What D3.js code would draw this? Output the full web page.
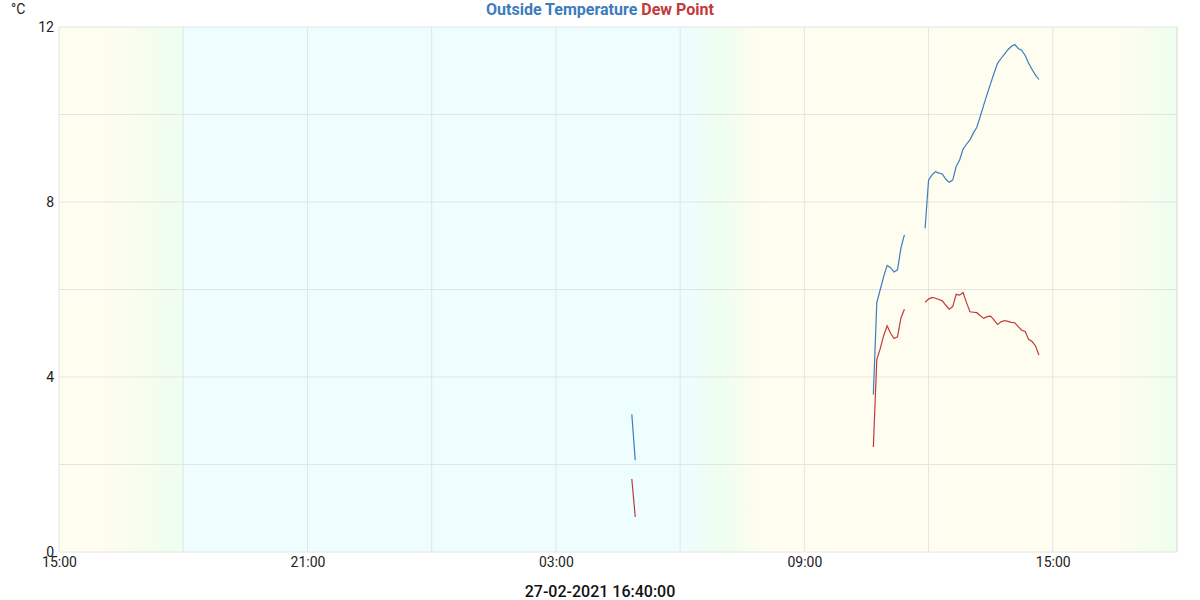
<!DOCTYPE html>
<html>
<head>
<meta charset="utf-8">
<script src="https://cdn.jsdelivr.net/npm/d3@7"></script>
<style>
body { margin: 0; background: #fff; }
svg { font-family: Roboto, "Noto Sans", sans-serif; }
</style>
</head>
<body>
<svg id="chart" width="1200" height="600"></svg>
<script>
// ---- data ----
// 5-minute readings, null = no reading (gap in the line)
var times = [
  "2021-02-27 04:50", "2021-02-27 04:55", "2021-02-27 05:00",
  "2021-02-27 10:40", "2021-02-27 10:45", "2021-02-27 10:50", "2021-02-27 10:55", "2021-02-27 11:00",
  "2021-02-27 11:05", "2021-02-27 11:10", "2021-02-27 11:15", "2021-02-27 11:20", "2021-02-27 11:25",
  "2021-02-27 11:30",
  "2021-02-27 11:55", "2021-02-27 12:00", "2021-02-27 12:05", "2021-02-27 12:10", "2021-02-27 12:15",
  "2021-02-27 12:20", "2021-02-27 12:25", "2021-02-27 12:30", "2021-02-27 12:35", "2021-02-27 12:40",
  "2021-02-27 12:45", "2021-02-27 12:50", "2021-02-27 12:55", "2021-02-27 13:00", "2021-02-27 13:05",
  "2021-02-27 13:10", "2021-02-27 13:15", "2021-02-27 13:20", "2021-02-27 13:25", "2021-02-27 13:30",
  "2021-02-27 13:35", "2021-02-27 13:40", "2021-02-27 13:45", "2021-02-27 13:50", "2021-02-27 13:55",
  "2021-02-27 14:00", "2021-02-27 14:05", "2021-02-27 14:10", "2021-02-27 14:15", "2021-02-27 14:20",
  "2021-02-27 14:25", "2021-02-27 14:30", "2021-02-27 14:35", "2021-02-27 14:40"
];
var outsideTemp = [
  3.15, 2.1, null,
  3.6, 5.7, 6.0, 6.3, 6.55, 6.5, 6.4, 6.45, 6.95, 7.25,
  null,
  7.4, 8.5, 8.62, 8.69, 8.66, 8.64, 8.52, 8.45, 8.5, 8.81,
  8.96, 9.21, 9.32, 9.42, 9.58, 9.71, 9.96, 10.22, 10.47, 10.71,
  10.95, 11.17, 11.28, 11.38, 11.48, 11.56, 11.6, 11.51, 11.47, 11.35,
  11.17, 11.03, 10.9, 10.8
];
var dewPoint = [
  1.67, 0.8, null,
  2.4, 4.4, 4.65, 4.95, 5.17, 5.0, 4.88, 4.92, 5.35, 5.55,
  null,
  5.71, 5.78, 5.82, 5.8, 5.77, 5.74, 5.64, 5.55, 5.61, 5.89,
  5.87, 5.93, 5.7, 5.49, 5.48, 5.47, 5.4, 5.34, 5.38, 5.39,
  5.3, 5.2, 5.26, 5.29, 5.27, 5.25, 5.24, 5.15, 5.07, 5.04,
  4.86, 4.81, 4.71, 4.5
];
var seriesNames = ["Outside Temperature", "Dew Point"];
var yTicks = [0, 4, 8, 12];
var xTicks = ["2021-02-26 15:00", "2021-02-26 21:00", "2021-02-27 03:00", "2021-02-27 09:00", "2021-02-27 15:00"];
var timeRange = ["2021-02-26 15:00", "2021-02-27 18:00"];
var footerLabel = "27-02-2021 16:40:00";
// day / night background: day, twilight, night
var bgTimes = ["2021-02-26 15:00", "2021-02-26 16:00", "2021-02-26 17:55", "2021-02-26 18:00", "2021-02-26 18:00",
               "2021-02-27 06:15", "2021-02-27 07:00", "2021-02-27 08:00", "2021-02-27 16:30", "2021-02-27 18:00"];
var bgKinds = ["day", "day", "dusk", "dusk", "night", "night", "dusk", "day", "day", "dusk"];

// ---- setup ----
var colors = ["#3b7dbd", "#c1393b"];
var bgColors = {day: "#fffdef", dusk: "#eefeef", night: "#eefdfd"};
var margin = {left: 59, right: 23, top: 27, bottom: 48};
var width = 1200 - margin.left - margin.right;
var height = 600 - margin.top - margin.bottom;
var parse = d3.timeParse("%Y-%m-%d %H:%M");

var svg = d3.select("#chart");
var g = svg.append("g").attr("transform", "translate(" + margin.left + "," + margin.top + ")");

var x = d3.scaleTime().domain(timeRange.map(parse)).range([0, width]);
var y = d3.scaleLinear().domain([0, 12]).range([height, 0]);

// background gradient
var grad = svg.append("defs").append("linearGradient")
    .attr("id", "bg").attr("x1", "0%").attr("x2", "100%").attr("y1", "0%").attr("y2", "0%");
bgTimes.forEach(function(t, i) {
  grad.append("stop")
      .attr("offset", (x(parse(t)) / width * 100) + "%")
      .attr("stop-color", bgColors[bgKinds[i]]);
});
g.append("rect").attr("width", width).attr("height", height).attr("fill", "url(#bg)");

// grid
g.append("g").selectAll("line")
    .data(d3.range(0, 12.01, 2))
    .join("line")
    .attr("x1", 0).attr("x2", width)
    .attr("y1", function(d) { return y(d); }).attr("y2", function(d) { return y(d); })
    .attr("stroke", "#e4e4e4").attr("stroke-width", 1);
g.append("g").selectAll("line")
    .data(x.ticks(d3.timeHour.every(3)).concat([x.domain()[1]]))
    .join("line")
    .attr("x1", function(d) { return x(d); }).attr("x2", function(d) { return x(d); })
    .attr("y1", 0).attr("y2", height)
    .attr("stroke", "#e4e4e4").attr("stroke-width", 1);

// axes
var yAxis = g.append("g")
    .call(d3.axisLeft(y).tickValues(yTicks).tickSize(0).tickPadding(5));
yAxis.select(".domain").remove();
yAxis.selectAll("text").attr("font-size", 14).attr("fill", "#222").attr("font-family", "Roboto");

var xAxis = g.append("g")
    .attr("transform", "translate(0," + height + ")")
    .call(d3.axisBottom(x).tickValues(xTicks.map(parse)).tickFormat(d3.timeFormat("%H:%M")).tickSize(0).tickPadding(5));
xAxis.select(".domain").remove();
xAxis.selectAll("text").attr("font-size", 14).attr("fill", "#222").attr("font-family", "Roboto");

// lines
var dates = times.map(parse);
var line = d3.line()
    .defined(function(d) { return d[1] != null; })
    .x(function(d) { return x(d[0]); })
    .y(function(d) { return y(d[1]); });
[outsideTemp, dewPoint].forEach(function(vals, i) {
  g.append("path")
      .datum(dates.map(function(d, j) { return [d, vals[j]]; }))
      .attr("fill", "none")
      .attr("stroke", colors[i])
      .attr("stroke-width", 1.2)
      .attr("d", line);
});

// title (legend)
var title = svg.append("text")
    .attr("x", 600).attr("y", 15)
    .attr("text-anchor", "middle")
    .attr("font-size", 16).attr("font-weight", "bold").attr("font-family", "Roboto");
seriesNames.forEach(function(n, i) {
  title.append("tspan").attr("fill", colors[i]).text((i ? " " : "") + n);
});

// unit
svg.append("text").attr("x", 11).attr("y", 14)
    .attr("font-size", 14).attr("fill", "#222").text("°C");

// footer
svg.append("text").attr("x", 600).attr("y", 597)
    .attr("text-anchor", "middle").attr("font-size", 16).attr("font-weight", 500)
    .attr("fill", "#111").text(footerLabel);
</script>
</body>
</html>
